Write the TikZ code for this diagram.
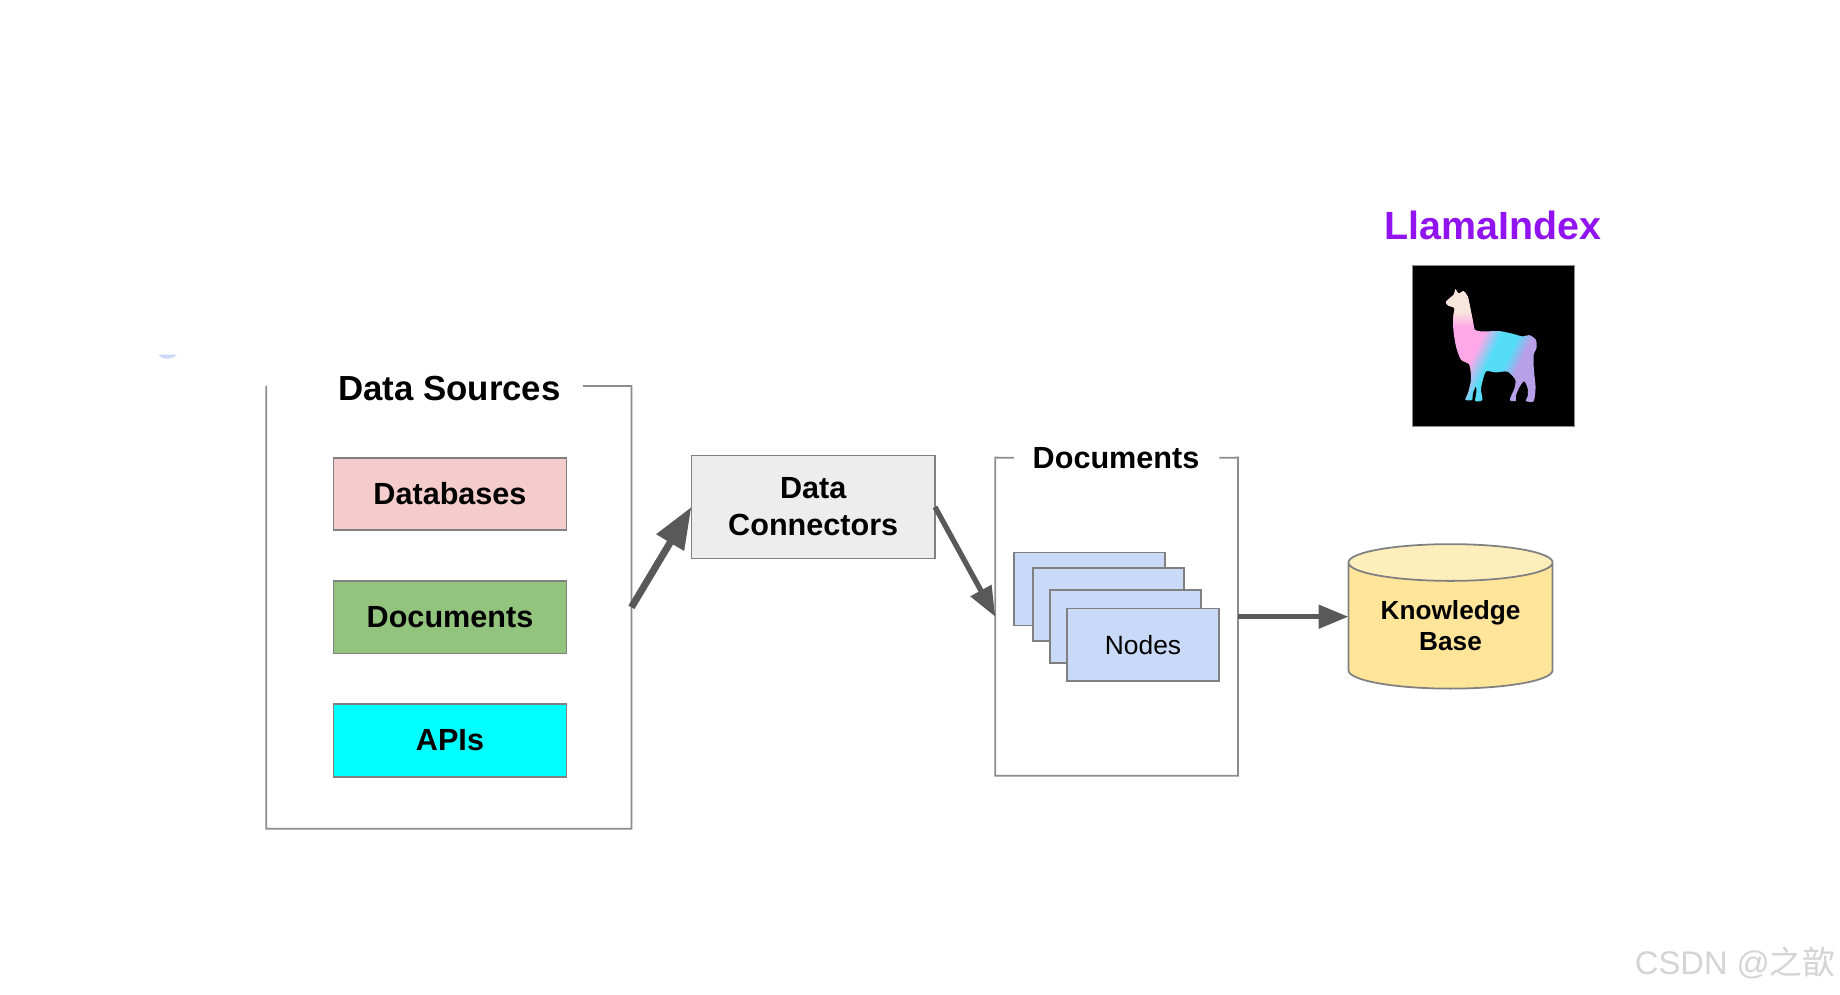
\documentclass[tikz,border=0pt]{standalone}
\usepackage{fontspec}
\setmainfont{Liberation Sans}
\newfontfamily\cjkfont{Noto Sans CJK SC}
\usetikzlibrary{arrows.meta,positioning,shapes.geometric,calc}
\definecolor{linegray}{HTML}{8C8C8C}
\definecolor{boxgray}{HTML}{808080}
\definecolor{arrowgray}{HTML}{595959}
\definecolor{llamapurple}{HTML}{9013F0}
\definecolor{nodeblue}{HTML}{C9DAF8}
\definecolor{dbpink}{HTML}{F4CCCC}
\definecolor{docgreen}{HTML}{93C47D}
\definecolor{apicyan}{HTML}{00FFFF}
\definecolor{kbbody}{HTML}{FFE599}
\definecolor{kbtop}{HTML}{FDEEBB}
\definecolor{llamacream}{HTML}{F7E6DC}
\definecolor{llamapink}{HTML}{FFA8E8}
\definecolor{llamacyan}{HTML}{55DDF8}
\definecolor{llamaviolet}{HTML}{B8A0E8}
\pgfdeclarehorizontalshading{llamaflow}{100bp}{
  color(0bp)=(llamapink); color(47bp)=(llamapink); color(53bp)=(llamacyan);
  color(59bp)=(llamacyan); color(64bp)=(llamaviolet); color(100bp)=(llamaviolet)}
\tikzset{
  frame/.style={inner sep=0pt,outer sep=0pt},
  framepath/.style={draw=linegray,line width=0.5pt},
  title/.style={font=\fontsize{9.9}{12}\bfseries\selectfont},
  subtitle/.style={font=\fontsize{8.7}{10.5}\bfseries\selectfont},
  sourcebox/.style={draw=boxgray,line width=0.5pt,minimum width=2.33cm,minimum height=0.725cm,inner sep=0pt,outer sep=0pt,subtitle},
  nodebox/.style={draw=boxgray,line width=0.5pt,fill=nodeblue,minimum width=1.514cm,minimum height=0.728cm,inner sep=0pt,outer sep=0pt},
  flow/.style={draw=arrowgray,line width=1.5pt,-{Triangle[length=8.5pt,width=6.5pt]}},
  bigflow/.style={draw=arrowgray,line width=2pt,-{Triangle[length=11.8pt,width=8.7pt]}}
}
\begin{document}
\begin{tikzpicture}[x=0.01cm,y=-0.01cm]
\useasboundingbox (0,0) rectangle (1840,994);
% the small mark on the left
\fill[nodeblue] (158,354.5) .. controls (162,360) and (172,360) .. (177,354.5) -- cycle;
% the data sources
\node[frame,minimum width=3.649cm,minimum height=4.425cm] (sources) at (448.9,607.3) {};
\coordinate (sourcesgap) at (583.2,386);
\draw[framepath] (sources.north west) -- (sources.south west) -- (sources.south east) -- (sources.north east) -- (sourcesgap);
\node[title] (sourcestitle) at (449.5,388.4) {Data Sources};
\node[sourcebox,fill=dbpink] (databases) at (450,494) {Databases};
\node[sourcebox,fill=docgreen] (documents) at (450,617.3) {Documents};
\node[sourcebox,fill=apicyan] (apis) at (450,740.5) {APIs};
% the connectors box
\node[sourcebox,fill=black!7,minimum width=2.435cm,minimum height=1.03cm,align=center] (connectors) at (813.2,507) {Data\\Connectors};
% the documents frame
\node[frame,minimum width=2.425cm,minimum height=3.18cm] (docs) at (1116.6,616.7) {};
\coordinate (docsgapl) at (1013.9,457.7);
\coordinate (docsgapr) at (1219.3,457.7);
\draw[framepath] (docsgapl) -- (docs.north west) -- (docs.south west) -- (docs.south east) -- (docs.north east) -- (docsgapr);
\node[subtitle] (docstitle) at (1116,457.7) {Documents};
% the stack of nodes
\foreach \i/\x/\y in {1/1089.6/589,2/1108.4/604.4,3/1125.4/626.7}
  \node[nodebox] (node\i) at (\x,\y) {};
\node[nodebox,font=\fontsize{7.5}{9}\selectfont] (node4) at (1143,644.8) {Nodes};
% the knowledge base
\node[cylinder,shape border rotate=90,aspect=0.263,draw=boxgray,line width=0.5pt,cylinder uses custom fill,cylinder body fill=kbbody,cylinder end fill=kbtop,minimum width=2.04cm,minimum height=1.444cm,inner sep=0pt,outer sep=0pt,align=center,font=\fontsize{7.45}{8.8}\bfseries\selectfont] (kb) at (1450.5,626) {Knowledge\\Base};
% the logo
\node[text=llamapurple,font=\fontsize{11.2}{13}\bfseries\selectfont] (logotitle) at (1492.7,225.3) {LlamaIndex};
\node[fill=black,draw=linegray,line width=0.3pt,minimum width=1.62cm,minimum height=1.61cm,inner sep=0pt,outer sep=0pt] (logo) at (1493.2,345.6) {};
\begin{scope}[shift={(1339.5,190)},x=0.00333cm,y=-0.00333cm]
  \begin{scope}
    \clip plot[smooth cycle,tension=0.45] coordinates {(348,298) (358,311) (373,304) (385,320) (392,350) (400,390) (407,420) (430,425) (480,424) (520,432) (550,440) (570,436) (590,450) (592,475) (584,492) (583,520) (585,550) (589,590) (587,620) (582,636) (560,634) (566,618) (565,595) (555,575) (542,590) (530,618) (530,634) (512,632) (516,618) (526,595) (528,570) (505,546) (470,548) (441,545) (431,570) (425,600) (429,631) (408,634) (411,610) (410,590) (401,610) (398,631) (378,630) (386,610) (395,570) (390,525) (365,510) (350,470) (342,420) (342,380) (345,355) (326,347) (320,336) (335,322) (345,312)};
    \shade[shading=llamaflow,shading angle=-25] (250,250) rectangle (650,650);
    \fill[llamacream] (300,280) rectangle (420,365);
    \shade[top color=llamacream,bottom color=llamapink] (300,365) rectangle (420,410);
  \end{scope}
\end{scope}
% the arrows
\draw[bigflow] (sources.east) -- (connectors.west);
\draw[flow] (connectors.east) -- (docs.west);
\draw[flow] (docs.east) -- (docs.east -| kb.west);
% the watermark
\node[text=black!17,anchor=east,inner sep=0pt,font=\fontsize{9.3}{11}\selectfont] (mark) at (1836,963) {CSDN @{\cjkfont 之歆}};
\end{tikzpicture}
\end{document}
